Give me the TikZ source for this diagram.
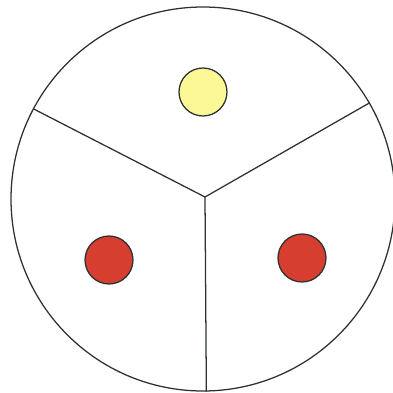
\documentclass[tikz,border=0pt]{standalone}
\usepackage{xcolor}
\usepackage{tikz}
\usetikzlibrary{positioning,calc}
\definecolor{rimgray}{RGB}{45,50,48}
\definecolor{tokenyellow}{RGB}{252,248,150}
\definecolor{tokenred}{RGB}{214,62,48}
\tikzset{
  rim/.style={draw=rimgray,line width=0.9pt,circle,inner sep=0pt,
    minimum size=384*0.025cm},
  spoke/.style={draw=rimgray,line width=0.9pt},
  token/.style={draw=rimgray,line width=0.9pt,circle,inner sep=0pt,
    minimum size=48*0.025cm}
}
\begin{document}
\begin{tikzpicture}[x=0.025cm,y=-0.025cm]
\useasboundingbox (0,0) rectangle (393,393);
\node[rim] (disk) at (203,199) {};
\coordinate (hub) at (205,197);
\draw[spoke] (hub) -- (disk.152);
\draw[spoke] (hub) -- (disk.30);
\draw[spoke] (hub) -- (disk.-89.5);
\node[token, fill=tokenyellow] (top) at (203,92) {};
\node[token, fill=tokenred] (left) at (109,260) {};
\node[token, fill=tokenred] (right) at (302,258) {};
\end{tikzpicture}
\end{document}
